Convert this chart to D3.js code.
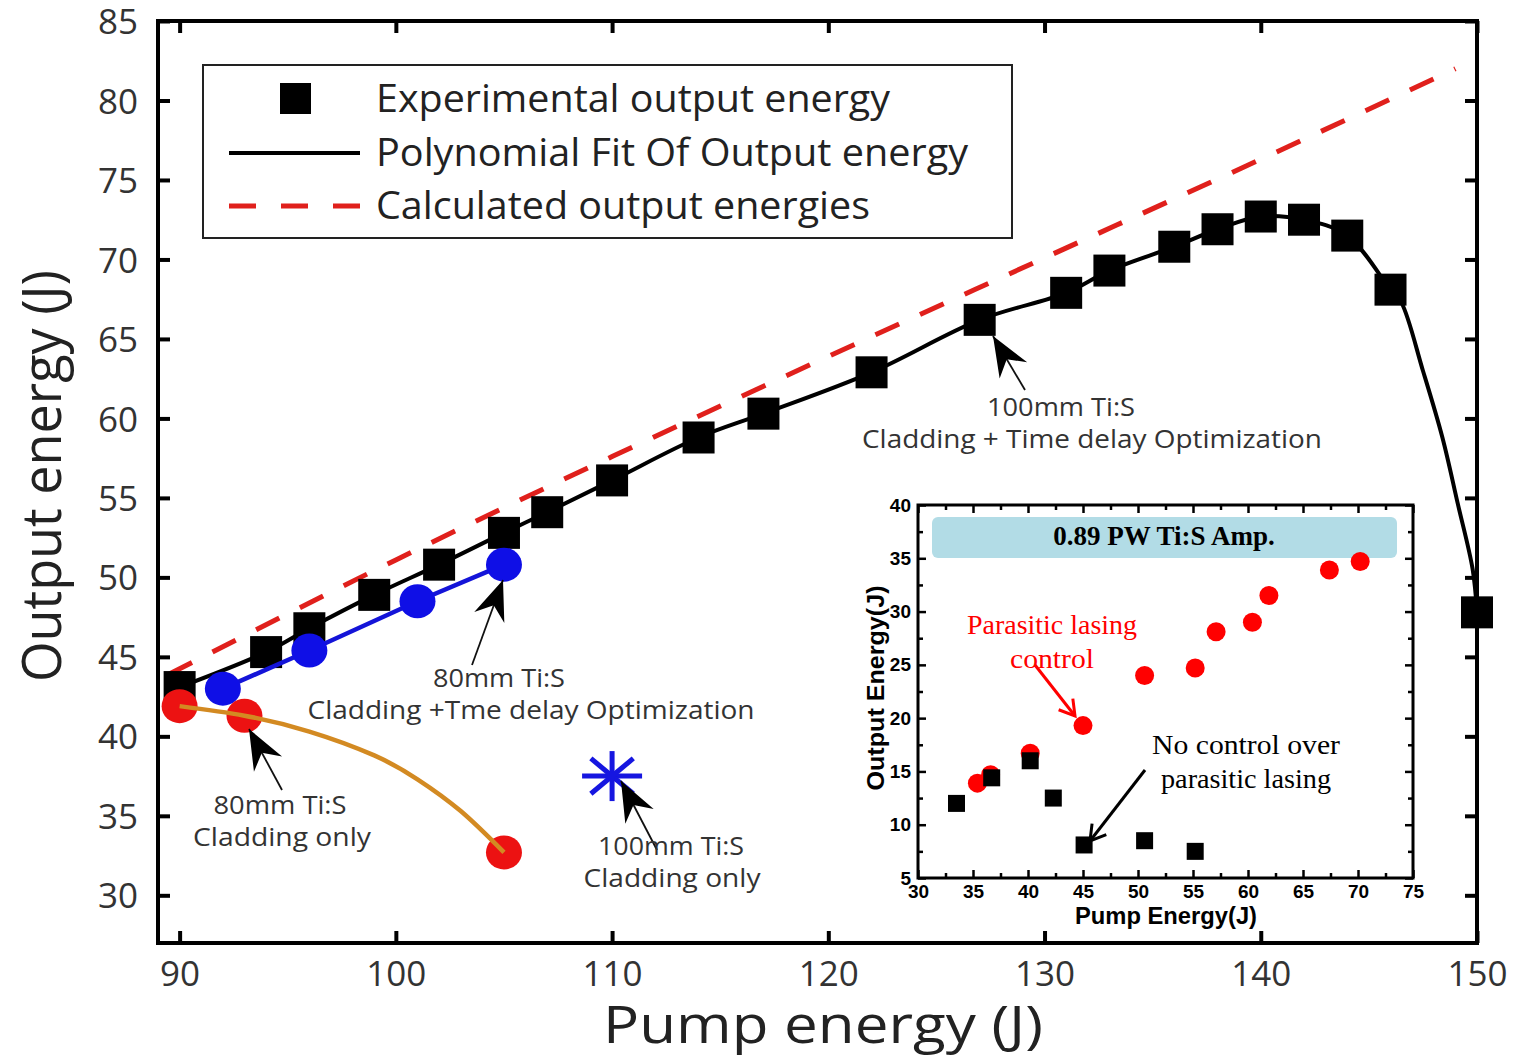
<!DOCTYPE html>
<html>
<head>
<meta charset="utf-8">
<script src="https://cdn.jsdelivr.net/npm/d3@7"></script>
<style>
  body { margin: 0; background: #fff; }
  svg { display: block; }
</style>
</head>
<body>
<svg id="chart" width="1516" height="1056"></svg>
<script>
// ---------- main plot data ----------
var expPump = [90, 94, 96, 99, 102, 105, 107, 110, 114, 117, 122, 127, 131, 133, 136, 138, 140, 142, 144, 146, 150];
var expOut  = [43.1, 45.3, 46.8, 48.9, 50.8, 52.8, 54.1, 56.1, 58.8, 60.3, 62.9, 66.2, 67.9, 69.3, 70.8, 71.9, 72.7, 72.5, 71.5, 68.1, 47.8];

// polynomial fit curve
var fitPump = [90, 94, 96, 99, 102, 105, 107, 110, 114, 117, 122, 127, 131, 133, 136, 138, 140, 142, 144, 146, 146.5, 147.5, 148.4, 149.1, 149.8, 150];
var fitOut  = [43.1, 45.3, 46.8, 48.9, 50.8, 52.8, 54.1, 56.1, 58.8, 60.3, 62.9, 66.2, 67.9, 69.3, 70.8, 71.9, 72.7, 72.5, 71.5, 68.1, 67.3, 63.0, 58.8, 54.7, 50.5, 47.8];

// calculated output (red dashed)
var calcPump = [89.5, 100, 110, 120, 130, 140, 149];
var calcOut  = [43.9, 51.1, 57.6, 63.9, 70.1, 76.3, 82.0];

// 80mm Ti:S cladding + time delay optimization (blue)
var bluePump = [92, 96, 101, 105];
var blueOut  = [43.0, 45.4, 48.5, 50.8];

// 80mm Ti:S cladding only (red dots + orange curve)
var redPump = [90, 93, 105];
var redOut  = [41.9, 41.3, 32.7];
var orangePump = [90, 93, 96, 99, 101, 103, 105];
var orangeOut  = [41.9, 41.3, 40.3, 38.8, 37.3, 35.3, 32.7];

// 100mm Ti:S cladding only (asterisk)
var starPump = [110];
var starOut  = [37.5];

var xTicks = [90, 100, 110, 120, 130, 140, 150];
var yTicks = [30, 35, 40, 45, 50, 55, 60, 65, 70, 75, 80, 85];

// ---------- inset data ----------
var inRedPump = [35.4, 36.6, 40.2, 45.0, 50.6, 55.2, 57.1, 60.4, 61.9, 67.4, 70.2];
var inRedOut  = [13.9, 14.7, 16.7, 19.3, 24.0, 24.7, 28.1, 29.0, 31.5, 33.9, 34.7];
var inBlkPump = [33.5, 36.7, 40.2, 42.3, 45.1, 50.6, 55.2];
var inBlkOut  = [12.0, 14.4, 16.0, 12.5, 8.1, 8.5, 7.5];
var inXTicks = [30, 35, 40, 45, 50, 55, 60, 65, 70, 75];
var inYTicks = [5, 10, 15, 20, 25, 30, 35, 40];

// ---------- setup ----------
var svg = d3.select("#chart");
var sans = "'Open Sans', 'DejaVu Sans', sans-serif";
var gray = "#333";

var x = d3.scaleLinear().domain([89, 150]).range([158, 1477]);
var y = d3.scaleLinear().domain([27, 85]).range([943, 21]);

var plot = svg.append("g");

// calculated (dashed red)
plot.append("path")
    .datum(d3.zip(calcPump, calcOut))
    .attr("d", d3.line().x(d => x(d[0])).y(d => y(d[1])).curve(d3.curveMonotoneX))
    .attr("fill", "none")
    .attr("stroke", "#e0201c")
    .attr("stroke-width", 5)
    .attr("stroke-dasharray", "26,23");

// fit line
plot.append("path")
    .datum(d3.zip(fitPump, fitOut))
    .attr("d", d3.line().x(d => x(d[0])).y(d => y(d[1])).curve(d3.curveCatmullRom))
    .attr("fill", "none")
    .attr("stroke", "#000")
    .attr("stroke-width", 4);

// experimental squares
plot.selectAll("rect.exp")
    .data(d3.zip(expPump, expOut))
    .enter().append("rect")
    .attr("class", "exp")
    .attr("x", d => x(d[0]) - 16)
    .attr("y", d => y(d[1]) - 16)
    .attr("width", 32)
    .attr("height", 32)
    .attr("fill", "#000");

// blue series
plot.append("path")
    .datum(d3.zip(bluePump, blueOut))
    .attr("d", d3.line().x(d => x(d[0])).y(d => y(d[1])))
    .attr("fill", "none")
    .attr("stroke", "#1414d8")
    .attr("stroke-width", 4.5);
plot.selectAll("ellipse.blue")
    .data(d3.zip(bluePump, blueOut))
    .enter().append("ellipse")
    .attr("cx", d => x(d[0]))
    .attr("cy", d => y(d[1]))
    .attr("rx", 18).attr("ry", 17)
    .attr("fill", "#0f0fe6");

// red cladding-only
plot.selectAll("ellipse.red")
    .data(d3.zip(redPump, redOut))
    .enter().append("ellipse")
    .attr("cx", d => x(d[0]))
    .attr("cy", d => y(d[1]))
    .attr("rx", 18).attr("ry", 17)
    .attr("fill", "#ec1212");
plot.append("path")
    .datum(d3.zip(orangePump, orangeOut))
    .attr("d", d3.line().x(d => x(d[0])).y(d => y(d[1])).curve(d3.curveNatural))
    .attr("fill", "none")
    .attr("stroke", "#d38a22")
    .attr("stroke-width", 4.5);

// asterisk
d3.zip(starPump, starOut).forEach(function(d) {
    var cx = x(d[0]), cy = y(d[1]);
    [0, 45, 90, 135].forEach(function(a) {
        var r = a * Math.PI / 180;
        var dx = Math.cos(r) * 30, dy = Math.sin(r) * 25;
        plot.append("line")
            .attr("x1", cx - dx).attr("y1", cy - dy)
            .attr("x2", cx + dx).attr("y2", cy + dy)
            .attr("stroke", "#1616e0")
            .attr("stroke-width", 5);
    });
});

// ---------- main axes ----------
var xAxis = svg.append("g").attr("transform", "translate(0,943)")
    .call(d3.axisBottom(x).tickValues(xTicks).tickSize(-12).tickPadding(18));
var xTop = svg.append("g").attr("transform", "translate(0,21)")
    .call(d3.axisTop(x).tickValues(xTicks).tickSize(-12).tickFormat(""));
var yAxis = svg.append("g").attr("transform", "translate(158,0)")
    .call(d3.axisLeft(y).tickValues(yTicks).tickSize(-12).tickPadding(20));
var yRight = svg.append("g").attr("transform", "translate(1477,0)")
    .call(d3.axisRight(y).tickValues(yTicks).tickSize(-12).tickFormat(""));

[xAxis, xTop, yAxis, yRight].forEach(function(g) {
    g.select(".domain").remove();
    g.selectAll(".tick line").attr("stroke", "#000").attr("stroke-width", 4);
    g.selectAll(".tick text")
        .attr("font-family", sans)
        .attr("font-size", 35)
        .attr("fill", gray);
});
yAxis.selectAll(".tick text").attr("dy", "0.36em");

svg.append("rect")
    .attr("x", 158).attr("y", 21)
    .attr("width", 1477 - 158).attr("height", 943 - 21)
    .attr("fill", "none")
    .attr("stroke", "#000")
    .attr("stroke-width", 4);

svg.append("text")
    .attr("x", 823).attr("y", 1043)
    .attr("text-anchor", "middle")
    .attr("font-family", sans)
    .attr("font-size", 51)
    .attr("fill", "#222")
    .attr("textLength", 440)
    .attr("lengthAdjust", "spacingAndGlyphs")
    .text("Pump energy (J)");

svg.append("text")
    .attr("transform", "translate(61,476) rotate(-90)")
    .attr("text-anchor", "middle")
    .attr("font-family", sans)
    .attr("font-size", 54)
    .attr("fill", "#222")
    .attr("textLength", 412)
    .attr("lengthAdjust", "spacingAndGlyphs")
    .text("Output energy (J)");

// ---------- legend ----------
var leg = svg.append("g");
leg.append("rect")
    .attr("x", 203).attr("y", 65).attr("width", 809).attr("height", 173)
    .attr("fill", "#fff").attr("stroke", "#222").attr("stroke-width", 2);
leg.append("rect")
    .attr("x", 280).attr("y", 83).attr("width", 31).attr("height", 31)
    .attr("fill", "#000");
leg.append("line")
    .attr("x1", 229).attr("x2", 360).attr("y1", 153).attr("y2", 153)
    .attr("stroke", "#000").attr("stroke-width", 4);
leg.append("line")
    .attr("x1", 229).attr("x2", 360).attr("y1", 206).attr("y2", 206)
    .attr("stroke", "#e0201c").attr("stroke-width", 5)
    .attr("stroke-dasharray", "27,25");
var legendTexts = ["Experimental output energy", "Polynomial Fit Of Output energy", "Calculated output energies"];
var legendW = [514, 592, 494];
var legendY = [112, 166, 219];
legendTexts.forEach(function(t, i) {
    leg.append("text")
        .attr("x", 376).attr("y", legendY[i])
        .attr("font-family", sans)
        .attr("font-size", 38)
        .attr("fill", "#222")
        .attr("textLength", legendW[i])
        .attr("lengthAdjust", "spacingAndGlyphs")
        .text(t);
});

// ---------- annotations (main) ----------
function bigArrow(x1, y1, x2, y2) {
    var ang = Math.atan2(y2 - y1, x2 - x1) * 180 / Math.PI;
    svg.append("line")
        .attr("x1", x1).attr("y1", y1).attr("x2", x2).attr("y2", y2)
        .attr("stroke", "#111").attr("stroke-width", 1.8);
    svg.append("path")
        .attr("d", "M0,0 L-40,-16 L-27,0 L-40,16 Z")
        .attr("transform", "translate(" + x2 + "," + y2 + ") rotate(" + ang + ")")
        .attr("fill", "#000");
}
bigArrow(1025, 390, 993, 336);
bigArrow(472, 665, 503, 580);
bigArrow(282, 790, 249, 729);
bigArrow(657, 850, 621, 781);

var notes = [
    { t: "100mm Ti:S", x: 1061, y: 416, w: 148 },
    { t: "Cladding + Time delay Optimization", x: 1092, y: 448, w: 460 },
    { t: "80mm Ti:S", x: 499, y: 687, w: 132 },
    { t: "Cladding +Tme delay Optimization", x: 531, y: 719, w: 447 },
    { t: "80mm Ti:S", x: 280, y: 814, w: 133 },
    { t: "Cladding only", x: 282, y: 846, w: 178 },
    { t: "100mm Ti:S", x: 671, y: 855, w: 146 },
    { t: "Cladding only", x: 672, y: 887, w: 177 }
];
notes.forEach(function(n) {
    svg.append("text")
        .attr("x", n.x).attr("y", n.y)
        .attr("text-anchor", "middle")
        .attr("font-family", sans)
        .attr("font-size", 26)
        .attr("fill", "#333")
        .attr("textLength", n.w)
        .attr("lengthAdjust", "spacingAndGlyphs")
        .text(n.t);
});

// ---------- inset ----------
var ix = d3.scaleLinear().domain([30, 75]).range([918, 1413]);
var iy = d3.scaleLinear().domain([5, 40]).range([878, 505]);
var inset = svg.append("g");
var bold = "'Liberation Sans', Arial, sans-serif";
var serif = "'Liberation Serif', 'Times New Roman', serif";

inset.append("rect")
    .attr("x", 918).attr("y", 505).attr("width", 1413 - 918).attr("height", 878 - 505)
    .attr("fill", "#fff");

inset.append("rect")
    .attr("x", 932).attr("y", 517).attr("width", 465).attr("height", 41).attr("rx", 6)
    .attr("fill", "#b2dce6");
inset.append("text")
    .attr("x", 1164).attr("y", 545)
    .attr("text-anchor", "middle")
    .attr("font-family", serif)
    .attr("font-weight", "bold")
    .attr("font-size", 27)
    .attr("fill", "#000")
    .text("0.89 PW Ti:S Amp.");

inset.selectAll("circle.ired")
    .data(d3.zip(inRedPump, inRedOut))
    .enter().append("circle")
    .attr("cx", d => ix(d[0]))
    .attr("cy", d => iy(d[1]))
    .attr("r", 9.5)
    .attr("fill", "#ff0000");
inset.selectAll("rect.iblk")
    .data(d3.zip(inBlkPump, inBlkOut))
    .enter().append("rect")
    .attr("x", d => ix(d[0]) - 8.5)
    .attr("y", d => iy(d[1]) - 8.5)
    .attr("width", 17).attr("height", 17)
    .attr("fill", "#000");

// inset axes
var inMinorX = d3.range(32.5, 75, 5);
var inMinorY = d3.range(7.5, 40, 5);
function insetAxis(axisFn, scale, major, minor, tx, ty, labels) {
    var g1 = inset.append("g").attr("transform", "translate(" + tx + "," + ty + ")")
        .call(axisFn(scale).tickValues(major).tickSize(-8).tickPadding(7).tickFormat(labels ? d3.format("d") : ""));
    var g2 = inset.append("g").attr("transform", "translate(" + tx + "," + ty + ")")
        .call(axisFn(scale).tickValues(minor).tickSize(-5).tickFormat(""));
    [g1, g2].forEach(function(g) {
        g.select(".domain").remove();
        g.selectAll(".tick line").attr("stroke", "#000").attr("stroke-width", 2.5);
    });
    g1.selectAll(".tick text")
        .attr("font-family", bold)
        .attr("font-weight", "bold")
        .attr("font-size", 19)
        .attr("fill", "#000");
}
insetAxis(d3.axisBottom, ix, inXTicks, inMinorX, 0, 878, true);
insetAxis(d3.axisTop, ix, inXTicks, inMinorX, 0, 505, false);
insetAxis(d3.axisLeft, iy, inYTicks, inMinorY, 918, 0, true);
insetAxis(d3.axisRight, iy, inYTicks, inMinorY, 1413, 0, false);

inset.append("rect")
    .attr("x", 918).attr("y", 505).attr("width", 1413 - 918).attr("height", 878 - 505)
    .attr("fill", "none").attr("stroke", "#000").attr("stroke-width", 3);

inset.append("text")
    .attr("x", 1166).attr("y", 924)
    .attr("text-anchor", "middle")
    .attr("font-family", bold).attr("font-weight", "bold")
    .attr("font-size", 23)
    .attr("textLength", 182)
    .attr("lengthAdjust", "spacingAndGlyphs")
    .text("Pump Energy(J)");
inset.append("text")
    .attr("transform", "translate(884,688) rotate(-90)")
    .attr("text-anchor", "middle")
    .attr("font-family", bold).attr("font-weight", "bold")
    .attr("font-size", 23)
    .attr("textLength", 205)
    .attr("lengthAdjust", "spacingAndGlyphs")
    .text("Output Energy(J)");

function openArrow(x1, y1, x2, y2, col) {
    var ang = Math.atan2(y2 - y1, x2 - x1) * 180 / Math.PI;
    inset.append("line")
        .attr("x1", x1).attr("y1", y1).attr("x2", x2).attr("y2", y2)
        .attr("stroke", col).attr("stroke-width", 3);
    inset.append("path")
        .attr("d", "M-15,-9 L0,0 L-15,9")
        .attr("transform", "translate(" + x2 + "," + y2 + ") rotate(" + ang + ")")
        .attr("fill", "none").attr("stroke", col).attr("stroke-width", 3)
        .attr("stroke-linejoin", "miter");
}
openArrow(1035, 665, 1075, 716, "#ff0000");
openArrow(1145, 770, 1090, 841, "#000");

var inNotes = [
    { t: "Parasitic lasing", x: 1052, y: 634, c: "#ff0000", w: 170 },
    { t: "control", x: 1052, y: 668, c: "#ff0000", w: 84 },
    { t: "No control over", x: 1246, y: 754, c: "#000", w: 188 },
    { t: "parasitic lasing", x: 1246, y: 788, c: "#000", w: 170 }
];
inNotes.forEach(function(n) {
    inset.append("text")
        .attr("x", n.x).attr("y", n.y)
        .attr("text-anchor", "middle")
        .attr("font-family", serif)
        .attr("font-size", 27)
        .attr("fill", n.c)
        .attr("textLength", n.w)
        .attr("lengthAdjust", "spacingAndGlyphs")
        .text(n.t);
});
</script>
</body>
</html>
